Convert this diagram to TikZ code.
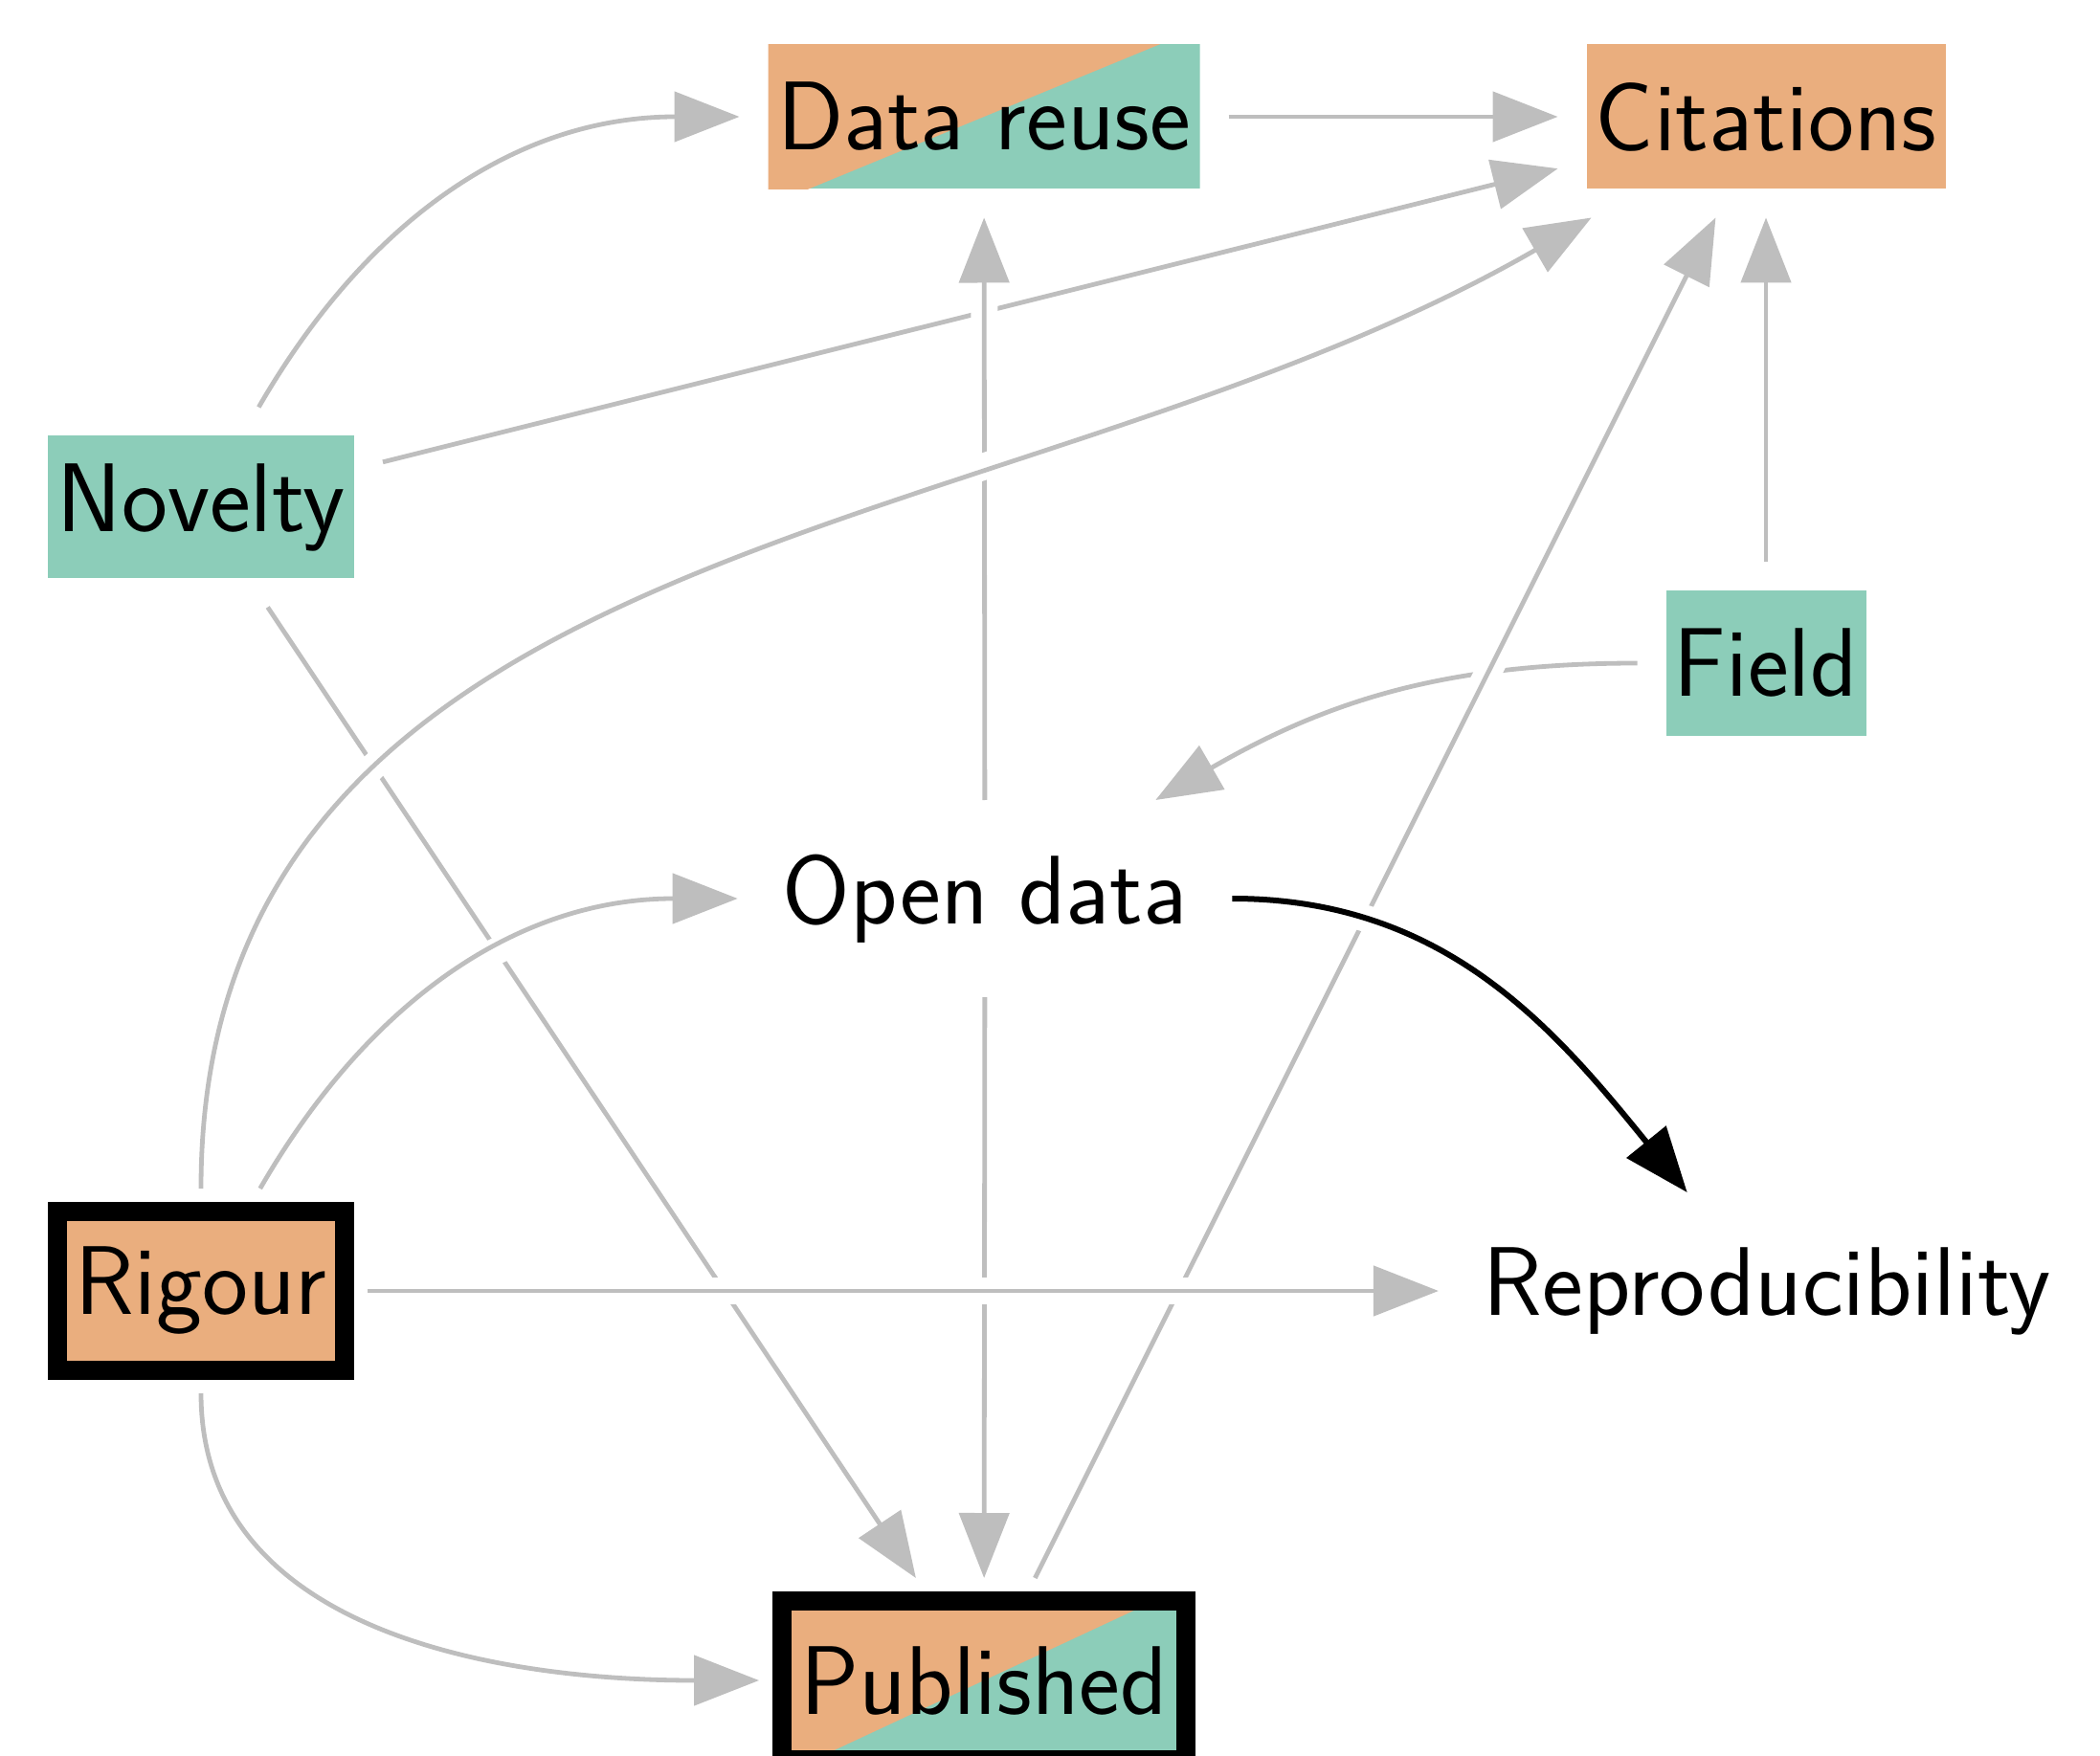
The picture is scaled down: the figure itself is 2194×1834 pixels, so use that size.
\documentclass[tikz,border=0pt]{standalone}
\usepackage{fontspec}
\usetikzlibrary{arrows.meta}
\definecolor{orangec}{RGB}{234,174,126}
\definecolor{tealc}{RGB}{140,205,185}
\definecolor{edgec}{RGB}{190,190,190}
\tikzset{
  nodebox/.style={rectangle, inner sep=0pt, outer sep=7.5pt, text=black},
  textbox/.style={rectangle, inner xsep=4.25pt, inner ysep=0pt, minimum height=36.5pt, outer sep=7.5pt, text=black},
  thickbox/.style={draw=black, line width=5pt, outer sep=6pt},
  splitfill/.style={path picture={
    \fill[tealc] (path picture bounding box.south west) rectangle (path picture bounding box.north east);
    \fill[orangec] (path picture bounding box.center) ++(#1:300pt) -- ++(#1+90:300pt) -- ++(#1+180:600pt) -- ++(#1-90:300pt) -- cycle;
  }},
  edge/.style={draw=edgec, line width=1.2pt, -{Triangle[length=17pt,width=13pt]},
    preaction={draw=white, line width=7pt, arrows=-}},
  blackedge/.style={draw=black, line width=1.5pt, -{Triangle[length=17pt,width=13pt]},
    preaction={draw=white, line width=7pt, arrows=-}}
}
\begin{document}
\begin{tikzpicture}[x=0.25pt, y=0.25pt, font=\sffamily\fontsize{25.5}{30}\selectfont]
\useasboundingbox (0,0) rectangle (2194,1834);
% nodes
\node[nodebox, splitfill=22.4, minimum width=112.75pt, minimum height=37.75pt] (dr) at (1028,1712) {Data reuse};
\node[nodebox, fill=orangec, minimum width=93.75pt, minimum height=37.75pt] (cit) at (1845,1712) {Citations};
\node[nodebox, fill=tealc, minimum width=80pt, minimum height=37.25pt] (nov) at (210,1304) {Novelty};
\node[nodebox, fill=tealc, minimum width=52.25pt, minimum height=38pt] (fld) at (1845,1141) {Field};
\node[textbox] (od) at (1029,895) {Open data};
\node[textbox] (rep) at (1846,485) {Reproducibility};
\node[nodebox, thickbox, fill=orangec, minimum width=75pt, minimum height=41.5pt] (rig) at (210,485) {Rigour};
\node[nodebox, thickbox, splitfill=25, minimum width=105.5pt, minimum height=41.5pt] (pub) at (1028,78) {Published};
% edges (drawing order matters for the white gaps)
\draw[edge] (nov) -- (pub);
\draw[edge] (nov) -- (cit);
\draw[edge] (od) -- (dr);
\draw[edge] (rig) to[out=90, in=210] (cit);
\draw[edge] (rig) to[out=60, in=180] (od);
\draw[edge] (fld) to[out=180, in=30] (od);
\draw[edge] (od) -- (pub);
\draw[edge] (pub) -- (cit);
\draw[edge] (rig) -- (rep);
\draw[edge] (nov) to[out=60, in=180] (dr);
\draw[edge] (dr) -- (cit);
\draw[edge] (fld) -- (cit);
\draw[edge] (rig) to[out=-90, in=180] (pub);
\draw[blackedge] (od) to[out=0, in=129] (rep);
\end{tikzpicture}
\end{document}
